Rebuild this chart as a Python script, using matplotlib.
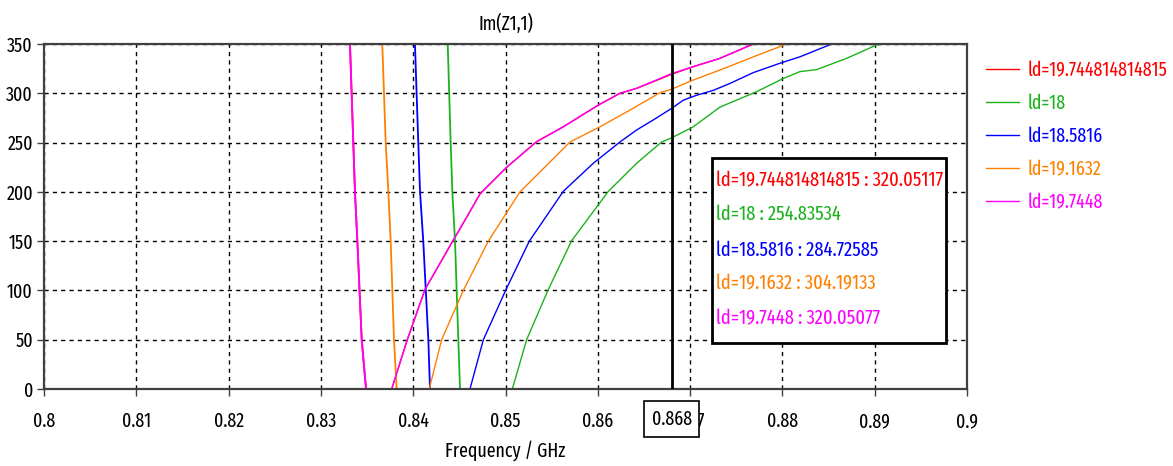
import matplotlib
matplotlib.use("Agg")
import matplotlib.pyplot as plt
import matplotlib.transforms as mtransforms
import numpy as np

plt.rcParams['font.family'] = ['Fira Sans Extra Condensed', 'DejaVu Sans']

# data (frequency in GHz, Im(Z1,1))
labels = ['ld=19.744814814815', 'ld=18', 'ld=18.5816', 'ld=19.1632', 'ld=19.7448']
colors = ['#ff0000', '#1db21d', '#0000ff', '#ff8000', '#ff00ff']

# falling branch (left of the pole)
desc_vals = [350, 250, 200, 150, 50, 0]
red_desc_f = [0.83315, 0.83351, 0.83369, 0.83395, 0.83442, 0.83489]
green_desc_f = [0.84374, 0.84406, 0.84424, 0.84453, 0.84489, 0.84507]
blue_desc_f = [0.84019, 0.84055, 0.84074, 0.84109, 0.84164, 0.84182]
orange_desc_f = [0.83665, 0.83702, 0.83731, 0.83756, 0.83792, 0.83821]
magenta_desc_f = [0.83315, 0.83351, 0.83369, 0.83395, 0.83442, 0.83489]

# rising branch
red_f = [0.83767, 0.83936, 0.84128, 0.84428, 0.8459, 0.84724, 0.85013, 0.85338, 0.85626, 0.86005, 0.8624,
         0.86421, 0.868, 0.87035, 0.87324, 0.87685]
red_v = [0, 50, 101, 150, 176, 198, 225, 251, 266, 288, 300, 305, 319.3, 327, 335.5, 350]
magenta_f = [0.83767, 0.83936, 0.84128, 0.84428, 0.8459, 0.84724, 0.85013, 0.85338, 0.85626, 0.86005, 0.8624,
             0.86421, 0.868, 0.87035, 0.87324, 0.87685]
magenta_v = [0, 50, 101, 150, 176, 198, 225, 251, 266, 288, 300, 305, 320, 327, 335.5, 350]
orange_f = [0.84174, 0.84308, 0.84543, 0.84814, 0.85157, 0.85699, 0.86024, 0.86349, 0.86674, 0.868,
            0.87035, 0.87324, 0.87685, 0.88047]
orange_v = [0, 50, 100, 150, 200, 250.6, 266, 283, 300.6, 304.2, 313.5, 323.6, 337, 350]
blue_f = [0.84615, 0.8476, 0.85006, 0.85258, 0.85626, 0.85951, 0.8624, 0.86421, 0.86602, 0.868,
          0.86926, 0.87071, 0.87252, 0.87432, 0.87685, 0.87974, 0.8819, 0.88534]
blue_v = [0, 50, 101, 150, 200.5, 229, 250.6, 262.8, 273, 284.7, 293, 298, 303, 310, 321, 330.5, 337, 350]
green_f = [0.85074, 0.85229, 0.85464, 0.85717, 0.86114, 0.86421, 0.86692, 0.868, 0.87035, 0.87324,
           0.8772, 0.8801, 0.8819, 0.88371, 0.88696, 0.89021, 0.89093]
green_v = [0, 50, 101, 150.5, 200.5, 229, 250.6, 254.8, 266, 286, 301.6, 315, 322, 324, 335.5, 349, 350]

cursor_f = 0.868
cursor_vals = ['320.05117', '254.83534', '284.72585', '304.19133', '320.05077']

xticks = [0.8, 0.81, 0.82, 0.83, 0.84, 0.85, 0.86, 0.87, 0.88, 0.89, 0.9]
xtick_labels = ['0.8', '0.81', '0.82', '0.83', '0.84', '0.85', '0.86', '0.87', '0.88', '0.89', '0.9']
yticks = [0, 50, 100, 150, 200, 250, 300, 350]

fs = 14

fig = plt.figure(figsize=(11.73, 4.66), dpi=100)
ax = fig.add_axes([44/1173, 77/466, 923/1173, 345/466])

desc_f = [red_desc_f, green_desc_f, blue_desc_f, orange_desc_f, magenta_desc_f]
rise_f = [red_f, green_f, blue_f, orange_f, magenta_f]
rise_v = [red_v, green_v, blue_v, orange_v, magenta_v]

handles = []
for i in range(5):
    ax.plot(desc_f[i], desc_vals, color=colors[i], lw=1.3)
    h, = ax.plot(rise_f[i], rise_v[i], color=colors[i], lw=1.0)
    handles.append(h)

ax.set_xlim(0.8, 0.9)
ax.set_ylim(0, 350)
ax.set_xticks(xticks)
ax.set_xticklabels(xtick_labels)
ax.set_yticks(yticks)
ax.tick_params(labelsize=fs, length=5, width=1, color='#404040')
ax.tick_params(axis='x', pad=11)
ax.tick_params(axis='y', pad=3)
ax.grid(True, color='black', linestyle=(0, (3, 3)), lw=1)
for s in ax.spines.values():
    s.set_color('#404040')
    s.set_linewidth(1.6)

ax.set_title('Im(Z1,1)', fontsize=fs, pad=10)
ax.set_xlabel('Frequency / GHz', fontsize=fs, labelpad=7)

# cursor
ax.axvline(cursor_f, color='black', lw=2, zorder=4)
trans = mtransforms.blended_transform_factory(ax.transData, ax.transAxes)
ax.text(cursor_f, -0.087, '0.868', transform=trans, ha='center', va='center', fontsize=fs,
        bbox=dict(facecolor='white', edgecolor='black', boxstyle='square,pad=0.4', lw=1.2),
        zorder=10, clip_on=False)

# readout box
box = plt.Rectangle((0.7237, 0.1336), 0.2535, 0.5360, transform=ax.transAxes,
                    facecolor='white', edgecolor='black', lw=2, zorder=6)
ax.add_patch(box)
ys = [0.6038, 0.5072, 0.4029, 0.3064, 0.2049]
for i in range(5):
    ax.text(0.728, ys[i], labels[i] + ' : ' + cursor_vals[i], transform=ax.transAxes,
            color=colors[i], fontsize=14.5, va='center', ha='left', zorder=7)

fig.legend(handles, labels, loc='upper left', bbox_to_anchor=(968/1173, 1 - 43/466),
           frameon=False, fontsize=fs, labelcolor=colors, handlelength=1.7,
           handletextpad=0.45, labelspacing=0.69)

fig.savefig('out.png', dpi=100)
